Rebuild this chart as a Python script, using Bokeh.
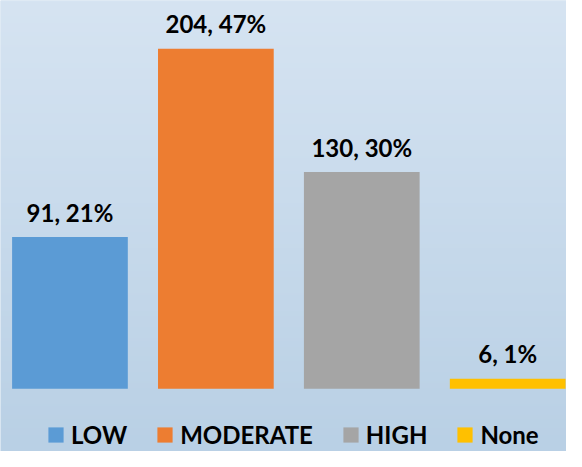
import numpy as np
from bokeh.plotting import figure
from bokeh.models import ColumnDataSource, Range1d, Legend, LegendItem
from bokeh.core.properties import value
from bokeh.embed import file_html
from bokeh.resources import INLINE

# ---- data ----
categories = ["LOW", "MODERATE", "HIGH", "None"]
counts = [91, 204, 130, 6]
percents = ["21%", "47%", "30%", "1%"]
colors = ["#5b9bd5", "#ed7d31", "#a5a5a5", "#ffc000"]

labels = [f"{c}, {p}" for c, p in zip(counts, percents)]
xs = list(range(len(categories)))

W, H = 566, 451
x0, x1 = -0.476, 3.403
y0, y1 = -37.7, 233.0

p = figure(width=W, height=H, output_backend="svg", toolbar_location=None,
           x_range=Range1d(x0, x1), y_range=Range1d(y0, y1), min_border=0)
p.axis.visible = False
p.grid.visible = False
p.outline_line_color = None
p.background_fill_color = "#c8dbed"
p.border_fill_color = "#c8dbed"

# vertical gradient background
N = 200
top = np.array([214, 228, 242], dtype=float)
bot = np.array([185, 208, 229], dtype=float)
t = np.linspace(0, 1, N)[:, None]  # row 0 = bottom
rgb = bot * (1 - t) + top * t
img = np.zeros((N, 1), dtype=np.uint32)
view = img.view(dtype=np.uint8).reshape((N, 1, 4))
view[:, 0, 0] = rgb[:, 0].astype(np.uint8)
view[:, 0, 1] = rgb[:, 1].astype(np.uint8)
view[:, 0, 2] = rgb[:, 2].astype(np.uint8)
view[:, 0, 3] = 255
p.image_rgba(image=[img], x=x0, y=y0, dw=x1 - x0, dh=y1 - y0)

src = ColumnDataSource(dict(x=xs, top=counts, cat=categories, color=colors, label=labels))
r = p.vbar(x="x", top="top", bottom=0, width=0.793, source=src,
           fill_color="color", line_color=None)

p.text(x="x", y="top", text="label", source=src, y_offset=-25,
       text_align="center", text_baseline="alphabetic",
       text_font=value("Lato"), text_font_style="bold",
       text_font_size="24px", text_color="#000000")

legend = Legend(orientation="horizontal")
legend.items = [LegendItem(label=c, renderers=[r], index=i) for i, c in enumerate(categories)]
legend.location = (46, 2)
legend.background_fill_alpha = 0
legend.border_line_color = None
legend.padding = 0
legend.margin = 0
legend.spacing = 28
legend.glyph_width = 19
legend.glyph_height = 19
legend.label_height = 19
legend.label_standoff = 6
legend.label_text_font = "Lato"
legend.label_text_font_style = "bold"
legend.label_text_font_size = "24px"
legend.label_text_color = "#000000"
legend.label_text_baseline = "middle"
p.add_layout(legend)

open("out.html", "w").write(file_html(p, INLINE))
